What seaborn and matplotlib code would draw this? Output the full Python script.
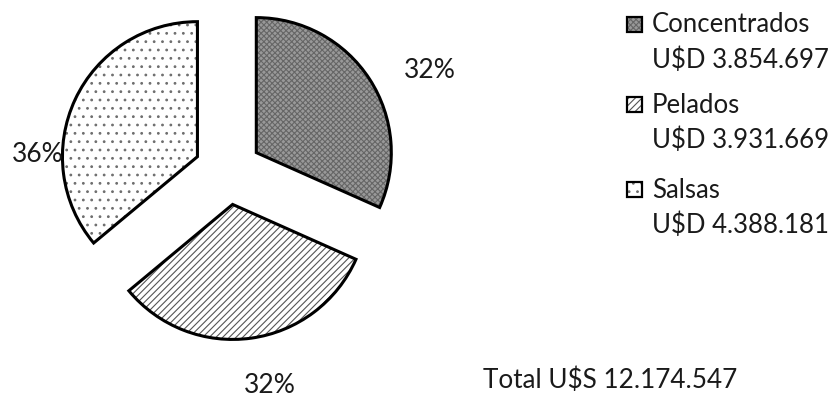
import matplotlib
matplotlib.use("Agg")
import matplotlib.pyplot as plt
import matplotlib.patches as mpatches
import seaborn as sns

# ---- data ----
categories = ["Concentrados", "Pelados", "Salsas"]
values = [3854697, 3931669, 4388181]
value_labels = ["U$D 3.854.697", "U$D 3.931.669", "U$D 4.388.181"]
total_label = "Total U$S 12.174.547"

# ---- style ----
sns.set_theme(style="white")
plt.rcParams['font.family'] = ['Lato', 'DejaVu Sans']
plt.rcParams['hatch.linewidth'] = 0.8

W, H = 831, 401
fig = plt.figure(figsize=(W / 100, H / 100), dpi=100)
fig.patch.set_facecolor("white")
ax = fig.add_axes([0, 0, 1, 1])

R = 135.0          # pie radius in pixels
CX, CY = 228, 171  # pie centre in pixels


def to_data(px, py):
    return (px - CX) / R, (CY - py) / R


fills = ["#999999", "white", "white"]
hatch_cols = ["#666666", "#555555", "#6e6e6e"]
hatches = ["xxxxxx", "/////", ".."]
explode = [0.25, 0.25, 0.25]

wedges, texts, autotexts = ax.pie(
    values, explode=explode, startangle=90, counterclock=False, radius=1,
    autopct="%.0f%%", wedgeprops=dict(linewidth=0),
    textprops=dict(fontsize=19, color="#1a1a1a"))
for w, fc, hc, h in zip(wedges, fills, hatch_cols, hatches):
    w.set_facecolor(fc)
    w.set_edgecolor(hc)
    w.set_hatch(h)
    w.set_linewidth(0)

outline, _ = ax.pie(
    values, explode=explode, startangle=90, counterclock=False, radius=1,
    wedgeprops=dict(facecolor="none", edgecolor="black", linewidth=2.2))

# percent label positions (pixels, baseline)
pct_pos = [(430, 78), (270, 393), (38, 162)]
for t, (px, py) in zip(autotexts, pct_pos):
    t.set_position(to_data(px, py))
    t.set_ha("center")
    t.set_va("baseline")

# ---- manual legend ----
box_tops = [17, 97, 182]
first_base = [32, 113, 198]
second_base = [68, 148, 233]
bs = 15
for i in range(3):
    x0, y0 = to_data(627, box_tops[i] + bs)
    ax.add_patch(mpatches.Rectangle((x0, y0), bs / R, bs / R, facecolor=fills[i],
                                    edgecolor=hatch_cols[i], hatch=hatches[i],
                                    linewidth=0, clip_on=False))
    ax.add_patch(mpatches.Rectangle((x0, y0), bs / R, bs / R, facecolor="none",
                                    edgecolor="black", linewidth=1.6, clip_on=False))
    ax.text(*to_data(652, first_base[i]), categories[i], fontsize=18.5,
            ha="left", va="baseline", color="#1a1a1a")
    ax.text(*to_data(652, second_base[i]), value_labels[i], fontsize=18.5,
            ha="left", va="baseline", color="#1a1a1a")

ax.text(*to_data(483, 388), total_label, fontsize=18.8, ha="left", va="baseline",
        color="#1a1a1a")

ax.set_xlim(-CX / R, (W - CX) / R)
ax.set_ylim(-(H - CY) / R, CY / R)
ax.set_aspect("auto")
ax.axis("off")

fig.savefig("out.png", dpi=100, facecolor="white")
